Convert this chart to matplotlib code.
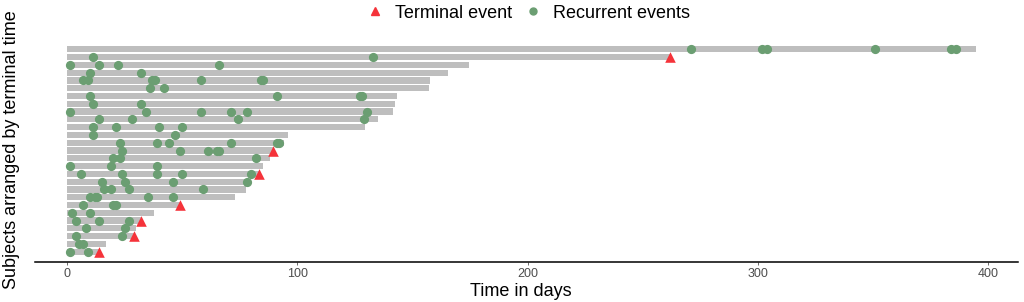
import matplotlib
matplotlib.use('Agg')
import matplotlib.pyplot as plt
from matplotlib.lines import Line2D

# subjects from top to bottom, sorted by terminal time
terminal_time = [394.6, 262, 174.6, 165.4, 157.4, 157.2, 143.4, 142.3, 141.3,
                 135.2, 129.2, 96.1, 94, 89.2, 88.2, 85, 83.2, 78.5, 77.5,
                 73, 49.1, 37.9, 32, 29.8, 29.1, 17, 14]
terminal_event = [0, 1, 0, 0, 0, 0, 0, 0, 0,
                  0, 0, 0, 0, 1, 0, 0, 1, 0, 0,
                  0, 1, 0, 1, 0, 1, 0, 1]
recurrent_times = [
    [271, 302, 304, 351, 384, 386],
    [11, 133],
    [1, 14, 22, 66],
    [10, 32],
    [7, 9, 37, 38, 58, 84, 85],
    [36, 42],
    [10, 91, 127, 128],
    [11, 32],
    [1, 34, 58, 71, 78, 130],
    [14, 28, 74, 129],
    [11, 21, 40, 50],
    [11, 47],
    [23, 39, 44, 71, 91, 92],
    [24, 49, 61, 65, 66],
    [20, 23, 82],
    [1, 19, 39],
    [6, 24, 39, 50, 80],
    [15, 25, 46, 78],
    [16, 19, 27, 59],
    [10, 12, 13, 35, 46],
    [7, 20, 21],
    [2, 10],
    [4, 14, 27],
    [8, 25],
    [4, 24],
    [5, 7],
    [1, 9],
]
x_ticks = [0, 100, 200, 300, 400]

BAR_GREY = '#BEBEBE'
DOT_GREEN = '#6B9E72'
TRI_RED = '#F5333A'


def main():
    plt.rcParams['font.family'] = ['Liberation Sans', 'DejaVu Sans']

    fig = plt.figure(figsize=(10.24, 3.02), dpi=100)
    ax = fig.add_axes([35 / 1024, 40 / 302, 983 / 1024, 223 / 302])

    n = len(terminal_time)
    rows = [n - i for i in range(n)]

    # follow-up bars
    ax.barh(rows, terminal_time, height=0.8, color=BAR_GREY, zorder=1)

    # recurrent events
    ev_x, ev_y = [], []
    for row, times in zip(rows, recurrent_times):
        ev_x += times
        ev_y += [row] * len(times)
    ax.scatter(ev_x, ev_y, s=44, color=DOT_GREEN, linewidths=0, zorder=2)

    # terminal events
    tx = [t for t, e in zip(terminal_time, terminal_event) if e]
    ty = [r for r, e in zip(rows, terminal_event) if e]
    ax.scatter(tx, ty, s=58, marker='^', color=TRI_RED, linewidths=0, zorder=3)

    ax.set_xlim(-14, 413)
    ax.set_ylim(-0.32, n + 1.32)
    ax.set_xticks(x_ticks)
    ax.set_yticks([])
    ax.tick_params(axis='x', length=2.5, width=0.6, color='#555555',
                   labelsize=9, labelcolor='#4D4D4D', pad=2)
    for side in ['top', 'right', 'left']:
        ax.spines[side].set_visible(False)
    ax.spines['bottom'].set_linewidth(1.1)

    fig.text(521 / 1024, 11 / 302, 'Time in days', ha='center', va='center',
             fontsize=13)
    fig.text(12 / 1024, 152 / 302, 'Subjects arranged by terminal time',
             ha='center', va='center', rotation=90, fontsize=13)

    handles = [
        Line2D([], [], marker='^', color=TRI_RED, linestyle='none', markersize=6),
        Line2D([], [], marker='o', color=DOT_GREEN, linestyle='none', markersize=5),
    ]
    fig.legend(handles, ['Terminal event', 'Recurrent events'], loc='center',
               bbox_to_anchor=(527 / 1024, 1 - 13 / 302), ncol=2, frameon=False,
               fontsize=13, handletextpad=0.5, columnspacing=0.55,
               handlelength=1.2)

    fig.savefig('out.png', dpi=100)


if __name__ == '__main__':
    main()
